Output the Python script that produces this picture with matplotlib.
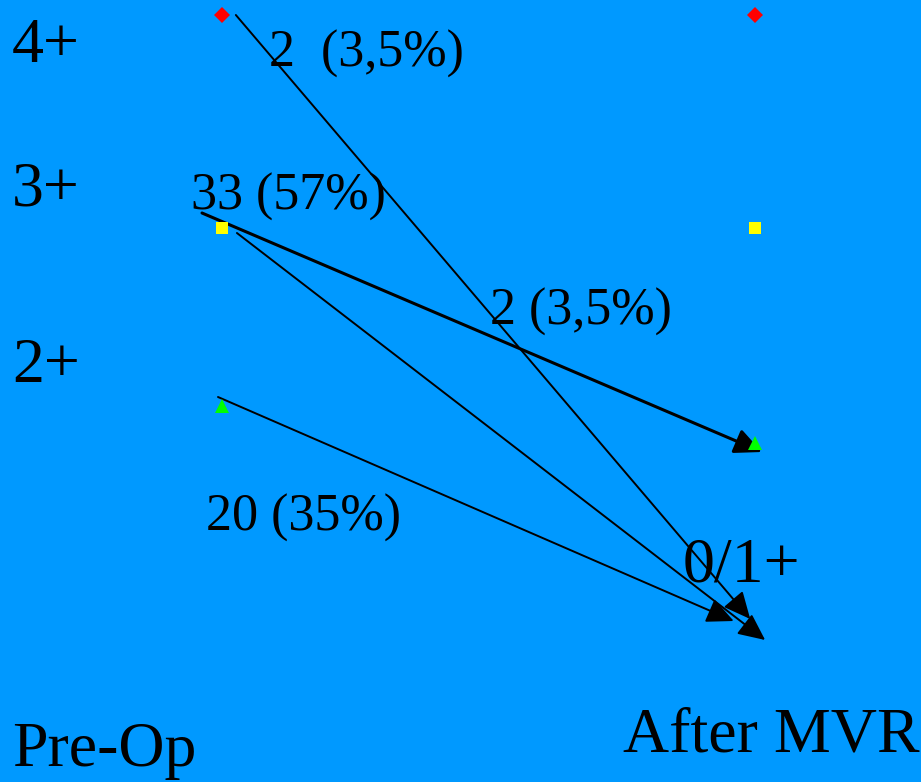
import matplotlib.pyplot as plt
from matplotlib.patches import FancyArrowPatch

W, H = 921, 782
BG = '#0099FF'

# stages on the x axis: 0 = Pre-Op, 1 = After MVR
stages = ['Pre-Op', 'After MVR']
stage_x = [0, 1]

# marker levels (vertical position, top = 0)
pre_levels = [15, 228, 406]      # 4+, 3+, 2+
post_levels = [15, 228, 443]     # 4+, 3+, 2+
marker_colors = ['#FF0000', '#FFFF00', '#00FF00']
marker_shapes = ['D', 's', '^']

# flows: start (x, y) -> end (x, y)
flow_start = [(0.026, 15), (-0.0375, 213), (0.028, 233), (-0.0075, 397)]
flow_end = [(0.991, 619), (1.013, 452), (1.019, 640), (0.96, 621)]
flow_width = [1.4, 2.2, 1.4, 1.4]

grade_labels = ['4+', '3+', '2+']
count_labels = ['2  (3,5%)', '33 (57%)', '2 (3,5%)', '20 (35%)']

plt.rcParams['font.family'] = ['Liberation Serif', 'DejaVu Serif']

fig = plt.figure(figsize=(W / 100, H / 100), dpi=100, facecolor=BG)
ax = fig.add_axes([0, 0, 1, 1])
ax.set_facecolor(BG)
ax.set_xlim(-222 / 533, 1 + 166 / 533)
ax.set_ylim(H, 0)
ax.axis('off')

sizes = [8, 9, 10]
for y0, y1, c, m, ms in zip(pre_levels, post_levels, marker_colors, marker_shapes, sizes):
    ax.plot(stage_x, [y0, y1], linestyle='none', marker=m, color=c,
            markersize=ms, markeredgewidth=0)

for (xa, ya), (xb, yb), lw in zip(flow_start, flow_end, flow_width):
    arr = FancyArrowPatch((xa, ya), (xb, yb),
                          arrowstyle='-|>,head_length=0.75,head_width=0.35',
                          mutation_scale=22, color='black', lw=lw,
                          shrinkA=0, shrinkB=0)
    ax.add_patch(arr)


def put(px, py, s, size):
    fig.text(px / W, 1 - py / H, s, fontsize=size, color='black',
             ha='left', va='baseline')


big = 46
small = 37.5
for lab, py in zip(grade_labels, [62, 206, 382]):
    put(12, py, lab, big)
put(683, 582, '0/1+', big)
put(12, 766, stages[0], big)
put(623, 751, stages[1], big)

for lab, (px, py) in zip(count_labels, [(269, 67), (191, 210), (490, 325), (206, 531)]):
    put(px, py, lab, small)

fig.savefig('out.png', dpi=100, facecolor=BG)
